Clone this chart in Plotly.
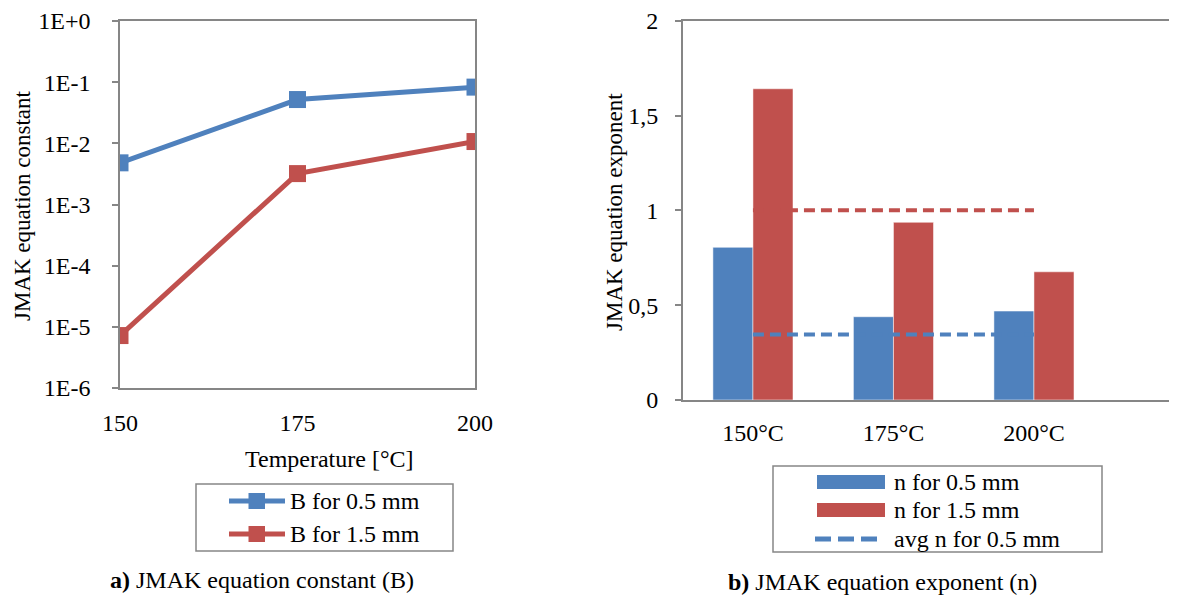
import plotly.graph_objects as go

# ---------------- data ----------------
temps = [150, 175, 200]
B_05 = [0.0048, 0.052, 0.083]
B_15 = [7.2e-6, 0.0032, 0.0107]

log_ticks = [1e-6, 1e-5, 1e-4, 1e-3, 1e-2, 1e-1, 1e0]
log_labels = ["1E-6", "1E-5", "1E-4", "1E-3", "1E-2", "1E-1", "1E+0"]

cats = ["150°C", "175°C", "200°C"]
n_05 = [0.805, 0.439, 0.469]
n_15 = [1.641, 0.937, 0.676]
avg_n_05 = [0.346, 0.346, 0.346]
avg_n_15 = [1.0, 1.0, 1.0]

n_ticks = [0, 0.5, 1, 1.5, 2]
n_labels = ["0", "0,5", "1", "1,5", "2"]

# ---------------- style ----------------
OFF = 8  # default page body margin
W, H = 1177 - OFF, 599 - OFF
BLUE = "#4F81BD"
RED = "#C0504D"
GRAY = "#868686"
FONT = "Liberation Serif"
FS = 24


def px(x):
    return (x - OFF) / W


def py(y):
    return 1 - (y - OFF) / H


fig = go.Figure()

# Left chart: B constants
fig.add_trace(go.Scatter(x=temps, y=B_05, mode="lines+markers", name="B for 0.5 mm",
                         line=dict(color=BLUE, width=5),
                         marker=dict(symbol="square", size=17, color=BLUE),
                         xaxis="x", yaxis="y", showlegend=False))
fig.add_trace(go.Scatter(x=temps, y=B_15, mode="lines+markers", name="B for 1.5 mm",
                         line=dict(color=RED, width=5),
                         marker=dict(symbol="square", size=17, color=RED),
                         xaxis="x", yaxis="y", showlegend=False))

# Right chart: n exponents
fig.add_trace(go.Bar(x=cats, y=n_05, name="n for 0.5 mm",
                     marker=dict(color=BLUE, line=dict(width=1, color="rgba(255,255,255,0.5)")),
                     xaxis="x2", yaxis="y2", showlegend=False))
fig.add_trace(go.Bar(x=cats, y=n_15, name="n for 1.5 mm",
                     marker=dict(color=RED, line=dict(width=1, color="rgba(255,255,255,0.5)")),
                     xaxis="x2", yaxis="y2", showlegend=False))
fig.add_trace(go.Scatter(x=cats, y=avg_n_15, mode="lines", name="avg n for 1.5 mm",
                         line=dict(color=RED, width=4, dash="11px,6px"),
                         xaxis="x2", yaxis="y2", showlegend=False))
fig.add_trace(go.Scatter(x=cats, y=avg_n_05, mode="lines", name="avg n for 0.5 mm",
                         line=dict(color=BLUE, width=4, dash="11px,6px"),
                         xaxis="x2", yaxis="y2", showlegend=False))

tickfont = dict(family=FONT, size=FS, color="black")

fig.update_layout(
    template="none",
    width=W, height=H,
    margin=dict(l=0, r=0, t=0, b=0, pad=0, autoexpand=False),
    paper_bgcolor="white", plot_bgcolor="white",
    font=dict(family=FONT, size=FS, color="black"),
    barmode="group", bargap=0.43, bargroupgap=0,
    xaxis=dict(domain=[px(120), px(475)], anchor="y", range=[150, 200], automargin=False,
               tickvals=temps, ticktext=[str(t) for t in temps], ticks="",
               showline=True, linecolor=GRAY, linewidth=1.5, mirror=True,
               showgrid=False, zeroline=False, tickfont=tickfont, ticklabelstandoff=12),
    xaxis3=dict(overlaying="x", anchor="y", side="top", range=[150, 200], automargin=False,
                tickvals=temps, ticks="inside", ticklen=5, tickcolor=GRAY, tickwidth=1.5,
                showticklabels=False, showline=False, showgrid=False, zeroline=False),
    yaxis=dict(domain=[py(388), py(21)], anchor="x", type="log", range=[-6, 0], automargin=False,
               tickvals=log_ticks, ticktext=log_labels, ticks="outside", ticklen=6,
               tickcolor=GRAY, tickwidth=1.5,
               showline=True, linecolor=GRAY, linewidth=1.5, mirror=True,
               showgrid=False, zeroline=False, tickfont=tickfont, ticklabelstandoff=17),
    xaxis2=dict(domain=[px(682.7), 1.0], anchor="y2", type="category", automargin=False,
                range=[-0.5, 3.018], ticks="",
                showline=True, linecolor=GRAY, linewidth=1.5, mirror=True,
                showgrid=False, zeroline=False, tickfont=tickfont, ticklabelstandoff=10),
    xaxis4=dict(overlaying="x2", anchor="y2", side="bottom", range=[-0.5, 3.018], automargin=False,
                tickvals=[-0.5, 0.5, 1.5], ticks="outside", ticklen=6, tickcolor=GRAY,
                tickwidth=1.5, showticklabels=False, showline=False, showgrid=False,
                zeroline=False),
    yaxis2=dict(domain=[py(400), py(20.7)], anchor="x2", range=[0, 2], automargin=False,
                tickvals=n_ticks, ticktext=n_labels, ticks="outside", ticklen=6,
                tickcolor=GRAY, tickwidth=1.5,
                showline=True, linecolor=GRAY, linewidth=1.5, mirror=False,
                showgrid=False, zeroline=False, tickfont=tickfont, ticklabelstandoff=12),
)

ann = []
# axis titles
ann.append(dict(x=px(22), y=py(206), xref="paper", yref="paper", text="JMAK equation constant",
                textangle=-90, showarrow=False, font=dict(size=23), xanchor="center", yanchor="middle"))
ann.append(dict(x=px(615), y=py(212), xref="paper", yref="paper", text="JMAK equation exponent",
                textangle=-90, showarrow=False, font=dict(size=23), xanchor="center", yanchor="middle"))
ann.append(dict(x=px(329), y=py(459), xref="paper", yref="paper", text="Temperature [°C]",
                showarrow=False, font=dict(size=FS), xanchor="center", yanchor="middle"))
# captions
ann.append(dict(x=px(262), y=py(580), xref="paper", yref="paper",
                text="<b>a)</b> JMAK equation constant (B)",
                showarrow=False, font=dict(size=FS), xanchor="center", yanchor="middle"))
ann.append(dict(x=px(882), y=py(582), xref="paper", yref="paper",
                text="<b>b)</b> JMAK equation exponent (n)",
                showarrow=False, font=dict(size=FS), xanchor="center", yanchor="middle"))

shapes = []
# ---- left legend ----
shapes.append(dict(type="rect", xref="paper", yref="paper", x0=px(196), x1=px(453),
                   y0=py(551), y1=py(484), line=dict(color=GRAY, width=1.5), fillcolor="white"))
for yc, col, label in [(501, BLUE, "B for 0.5 mm"), (534, RED, "B for 1.5 mm")]:
    shapes.append(dict(type="line", xref="paper", yref="paper", x0=px(229), x1=px(285),
                       y0=py(yc), y1=py(yc), line=dict(color=col, width=5)))
    shapes.append(dict(type="rect", xref="paper", yref="paper", x0=px(248.5), x1=px(265),
                       y0=py(yc + 8), y1=py(yc - 8), line=dict(width=0), fillcolor=col))
    ann.append(dict(x=px(288), y=py(yc), xref="paper", yref="paper", text=label,
                    showarrow=False, font=dict(size=FS), xanchor="left", yanchor="middle"))

# ---- right legend ----
shapes.append(dict(type="rect", xref="paper", yref="paper", x0=px(773), x1=px(1102),
                   y0=py(552), y1=py(466), line=dict(color=GRAY, width=1.5), fillcolor="white"))
for yc, col, label in [(482, BLUE, "n for 0.5 mm"), (510, RED, "n for 1.5 mm")]:
    shapes.append(dict(type="rect", xref="paper", yref="paper", x0=px(817), x1=px(885),
                       y0=py(yc + 7), y1=py(yc - 7), line=dict(width=0), fillcolor=col))
    ann.append(dict(x=px(892), y=py(yc), xref="paper", yref="paper", text=label,
                    showarrow=False, font=dict(size=FS), xanchor="left", yanchor="middle"))
shapes.append(dict(type="line", xref="paper", yref="paper", x0=px(815), x1=px(878),
                   y0=py(539), y1=py(539), line=dict(color=BLUE, width=5, dash="16px,7px")))
ann.append(dict(x=px(892), y=py(539), xref="paper", yref="paper", text="avg n for 0.5 mm",
                showarrow=False, font=dict(size=FS), xanchor="left", yanchor="middle"))

fig.update_layout(annotations=ann, shapes=shapes)

fig.write_html("out.html")
